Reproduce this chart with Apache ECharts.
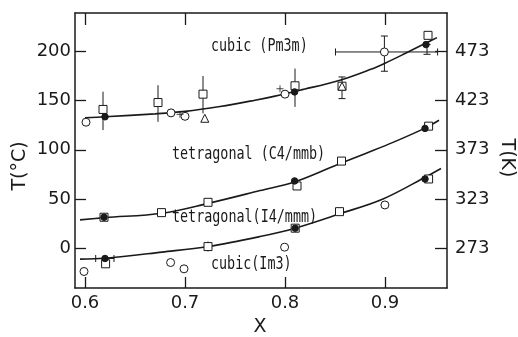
<!DOCTYPE html>
<html>
<head>
<meta charset="utf-8">
<script src="https://cdn.jsdelivr.net/npm/echarts@6/dist/echarts.min.js"></script>
<style>html,body{margin:0;padding:0;background:#fff}#c{width:518px;height:337px}</style>
</head>
<body>
<div id="c"></div>
<script>
// ---- data (x = composition X, y = T in °C) ----
const xTicks = [0.6, 0.7, 0.8, 0.9];
const yTicks = [0, 50, 100, 150, 200];
const kelvinOffset = 273;

const curvePm3m = [[0.600,132.5],[0.620,133.5],[0.670,136.5],[0.700,139],[0.735,144],[0.770,150.4],[0.790,154.5],[0.815,160.5],[0.855,170.7],[0.885,181.5],[0.900,188],[0.920,197.8],[0.940,208],[0.952,214]];
const curveC4mmb = [[0.595,28.7],[0.620,31],[0.677,35.5],[0.723,45.5],[0.775,58.5],[0.810,67.5],[0.848,83],[0.880,96],[0.908,107.5],[0.940,122],[0.954,130]];
const curveI4mmm = [[0.595,-11.2],[0.620,-10.3],[0.677,-4],[0.723,1.6],[0.775,11.8],[0.810,20.3],[0.855,35],[0.898,50],[0.941,72.6],[0.956,81]];

const openCircles = [[0.601,128],[0.686,137.5],[0.700,134],[0.800,156.5],[0.8994,199.4],[0.599,-23.7],[0.6856,-14.6],[0.699,-21],[0.7996,1.0],[0.8999,43.9]];
const openSquares = [[0.618,141],[0.673,148],[0.718,156.5],[0.810,165],[0.857,164.6],[0.943,216.3],[0.619,31.4],[0.6765,36.1],[0.723,46.6],[0.812,63.2],[0.8565,88.5],[0.9436,124],[0.6206,-15.9],[0.723,1.6],[0.8102,20.3],[0.8545,37.1],[0.9436,70.3]];
const filledCircles = [[0.620,133.5],[0.8096,158.8],[0.941,206.9],[0.619,31.4],[0.8096,68.3],[0.940,121.7],[0.620,-10.5],[0.8102,20.3],[0.940,70.3]];
const openTriangles = [[0.7198,132],[0.857,164.6]];
const plusMarks = [[0.695,136],[0.795,162]];

// error bars: vertical [x, low, high]; horizontal [y, low, high]
const errV = [[0.618,120,159],[0.673,128.4,165.6],[0.718,137,175],[0.810,143.6,182.5],[0.723,-3.4,6.7]];
const errVCap = [[0.857,152,174],[0.8994,179.8,215.6],[0.942,197,207]];
const errHCap = [[199.4,0.8505,0.9526],[-10.5,0.6107,0.629]];

const labels = [
  {text:'cubic (Pm3m)', x:211, y:46},
  {text:'tetragonal (C4/mmb)', x:172, y:154},
  {text:'tetragonal(I4/mmm)', x:172, y:217},
  {text:'cubic(Im3)', x:211, y:264}
];

const chart = echarts.init(document.getElementById('c'), null, {renderer:'canvas'});
const ink = '#1a1a1a';
const axisFont = {fontFamily:'DejaVu Sans', fontSize:18, color:ink};

function vBar(cap){
  return function(params, api){
    const x = api.value(0);
    const p1 = api.coord([x, api.value(1)]);
    const p2 = api.coord([x, api.value(2)]);
    const st = {stroke:ink, lineWidth:1};
    const ch = [{type:'line', shape:{x1:p1[0],y1:p1[1],x2:p2[0],y2:p2[1]}, style:st}];
    if (cap){
      ch.push({type:'line', shape:{x1:p1[0]-cap,y1:p1[1],x2:p1[0]+cap,y2:p1[1]}, style:st});
      ch.push({type:'line', shape:{x1:p2[0]-cap,y1:p2[1],x2:p2[0]+cap,y2:p2[1]}, style:st});
    }
    return {type:'group', children:ch};
  };
}
function hBar(cap){
  return function(params, api){
    const y = api.value(0);
    const p1 = api.coord([api.value(1), y]);
    const p2 = api.coord([api.value(2), y]);
    const st = {stroke:ink, lineWidth:1};
    return {type:'group', children:[
      {type:'line', shape:{x1:p1[0],y1:p1[1],x2:p2[0],y2:p2[1]}, style:st},
      {type:'line', shape:{x1:p1[0],y1:p1[1]-cap,x2:p1[0],y2:p1[1]+cap}, style:st},
      {type:'line', shape:{x1:p2[0],y1:p2[1]-cap,x2:p2[0],y2:p2[1]+cap}, style:st}
    ]};
  };
}

function curve(d){
  return {type:'line', data:d, smooth:0.35, symbol:'none', lineStyle:{color:ink, width:1.6}, z:2, silent:true};
}
function markers(d, symbol, size, fill, z){
  return {type:'scatter', data:d, symbol:symbol, symbolSize:size,
    itemStyle:{color:fill, borderColor:ink, borderWidth:1, opacity:1}, z:z, silent:true};
}
const frameLine = {show:true, onZero:false, lineStyle:{color:ink, width:1.5}};

const option = {
  animation:false,
  backgroundColor:'#fff',
  grid:{left:75, right:71, top:13, bottom:49},
  xAxis:[
    {type:'value', min:0.59, max:0.962, position:'bottom',
     axisLine:frameLine,
     axisTick:{show:true, inside:true, length:11, customValues:xTicks, lineStyle:{color:ink, width:1.3}},
     axisLabel:{show:true, customValues:xTicks, margin:6, formatter:v=>v.toFixed(1), ...axisFont},
     splitLine:{show:false}},
    {type:'value', min:0.59, max:0.962, position:'top',
     axisLine:frameLine,
     axisTick:{show:true, inside:true, length:12, customValues:xTicks, lineStyle:{color:ink, width:1.3}},
     axisLabel:{show:false},
     splitLine:{show:false}}
  ],
  yAxis:[
    {type:'value', min:-40.5, max:239, position:'left',
     axisLine:frameLine,
     axisTick:{show:true, inside:true, length:11, customValues:yTicks, lineStyle:{color:ink, width:1.3}},
     axisLabel:{show:true, customValues:yTicks, margin:4, ...axisFont},
     splitLine:{show:false}},
    {type:'value', min:-40.5, max:239, position:'right',
     axisLine:frameLine,
     axisTick:{show:true, inside:true, length:12, customValues:yTicks, lineStyle:{color:ink, width:1.3}},
     axisLabel:{show:true, customValues:yTicks, margin:8, formatter:v=>String(v+kelvinOffset), ...axisFont},
     splitLine:{show:false}}
  ],
  graphic:[
    ...labels.map(l=>({type:'text', x:l.x, y:l.y, scaleY:1.3,
       style:{text:l.text, fill:ink, font:'13.4px "DejaVu Sans Mono"', align:'left', verticalAlign:'middle'}})),
    {type:'text', x:20, y:166, rotation:Math.PI/2, style:{text:'T(°C)', fill:ink, font:'19px "DejaVu Sans"', align:'center', verticalAlign:'middle'}},
    {type:'text', x:507, y:158, rotation:-Math.PI/2, style:{text:'T(K)', fill:ink, font:'19px "DejaVu Sans"', align:'center', verticalAlign:'middle'}},
    {type:'text', x:260, y:327, style:{text:'X', fill:ink, font:'19px "DejaVu Sans"', align:'center', verticalAlign:'middle'}}
  ],
  series:[
    curve(curvePm3m), curve(curveC4mmb), curve(curveI4mmm),
    {type:'custom', data:errV, renderItem:vBar(0), z:3, silent:true},
    {type:'custom', data:errVCap, renderItem:vBar(3.5), z:3, silent:true},
    {type:'custom', data:errHCap, renderItem:hBar(3.5), z:3, silent:true},
    markers(openCircles, 'circle', 8, '#fff', 4),
    markers(openSquares, 'rect', 8, '#fff', 4),
    markers(openTriangles, 'triangle', 8, '#fff', 5),
    markers(filledCircles, 'circle', 6.5, ink, 6),
    {type:'scatter', data:plusMarks, symbol:'path://M0,5L10,5M5,0L5,10', symbolSize:7,
     itemStyle:{color:'none', borderColor:ink, borderWidth:1}, z:6, silent:true}
  ]
};
chart.setOption(option);
</script>
</body>
</html>
